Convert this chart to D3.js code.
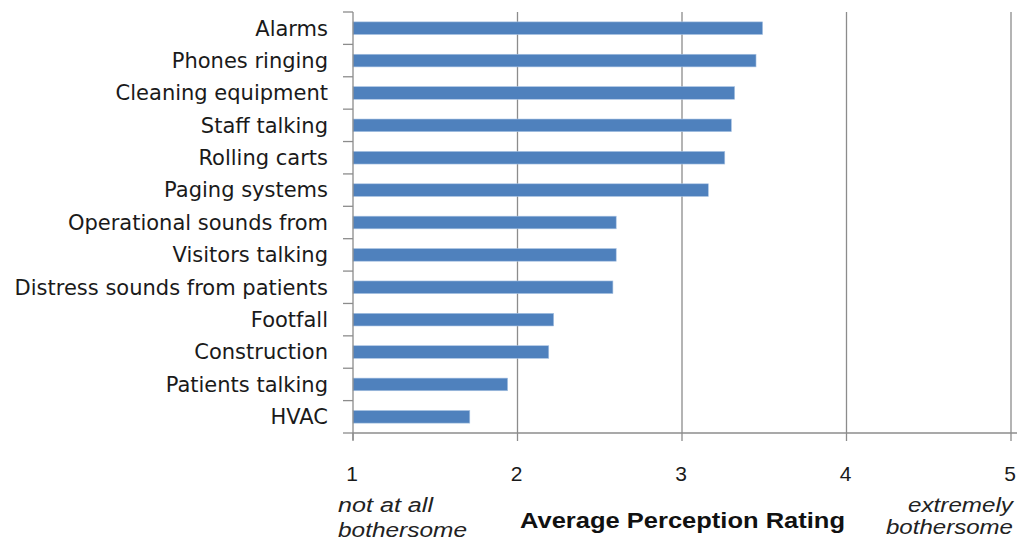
<!DOCTYPE html>
<html><head><meta charset="utf-8">
<script src="https://cdn.jsdelivr.net/npm/d3@7"></script>
<style>body{margin:0;background:#fff}svg{display:block}</style>
</head><body>
<svg id="c" width="1019" height="542"></svg>
<script>
const categories = ["Alarms","Phones ringing","Cleaning equipment","Staff talking","Rolling carts","Paging systems","Operational sounds from","Visitors talking","Distress sounds from patients","Footfall","Construction","Patients talking","HVAC"];
const values = [3.49,3.45,3.32,3.30,3.26,3.16,2.60,2.60,2.58,2.22,2.19,1.94,1.71];
const xTicks = [1,2,3,4,5];
const xTitle = "Average Perception Rating";
const lowLabel = ["not at all","bothersome"];
const highLabel = ["extremely","bothersome"];

const svg = d3.select("#c");
const L = 353, R = 1011, T = 12, B = 433;
const x = d3.scaleLinear().domain([1,5]).range([L,R]);
const y = d3.scaleBand().domain(categories).range([T,B]).paddingInner(0.61).paddingOuter(0.305);
const grid = "#8c8c8c";
const lblFont = "Liberation Sans";

// gridlines
svg.append("g").selectAll("line").data(xTicks.slice(1)).join("line")
  .attr("x1",d=>x(d)).attr("x2",d=>x(d)).attr("y1",T).attr("y2",B)
  .attr("stroke",grid).attr("stroke-width",1.3);

// bars
svg.append("g").selectAll("rect").data(categories).join("rect")
  .attr("x",x(1)).attr("y",d=>y(d))
  .attr("width",(d,i)=>x(values[i])-x(1)).attr("height",y.bandwidth())
  .attr("fill","#4f81bd").attr("stroke","#a9c3e3").attr("stroke-width",0.6);

// y axis
const yLine = svg.append("g");
yLine.append("line").attr("x1",L).attr("x2",L).attr("y1",T).attr("y2",B+7).attr("stroke",grid).attr("stroke-width",1.3);
const bounds = d3.range(categories.length+1).map(i=>T+i*(B-T)/categories.length);
yLine.selectAll("line.t").data(bounds).join("line").attr("class","t")
  .attr("x1",L-10).attr("x2",L).attr("y1",d=>d).attr("y2",d=>d).attr("stroke",grid).attr("stroke-width",1.3);
svg.append("g").selectAll("text").data(categories).join("text")
  .attr("x",328).attr("y",d=>y(d)+y.bandwidth()/2).attr("dy","0.35em")
  .attr("text-anchor","end").attr("font-family","DejaVu Sans").attr("font-size",21).attr("fill","#1a1a1a")
  .text(d=>d);

// x axis
const xa = svg.append("g");
xa.append("line").attr("x1",L).attr("x2",R+6).attr("y1",B).attr("y2",B).attr("stroke",grid).attr("stroke-width",1.3);
xa.selectAll("line.t").data(xTicks).join("line").attr("class","t")
  .attr("x1",d=>x(d)).attr("x2",d=>x(d)).attr("y1",B).attr("y2",B+8).attr("stroke",grid).attr("stroke-width",1.3);
xa.selectAll("text").data(xTicks).join("text")
  .attr("x",d=>x(d)-1).attr("y",481).attr("text-anchor","middle")
  .attr("font-family",lblFont).attr("font-size",21).attr("fill","#1a1a1a")
  .text(d=>d);

svg.append("text").attr("x",520).attr("y",528)
  .attr("font-family",lblFont).attr("font-weight","bold").attr("font-size",22).attr("fill","#111")
  .attr("textLength",325).attr("lengthAdjust","spacingAndGlyphs")
  .text(xTitle);
const lowW = [95,129], highW = [105,127];
svg.append("g").selectAll("text").data(lowLabel).join("text")
  .attr("x",338).attr("y",(d,i)=>512+i*25).attr("font-family",lblFont)
  .attr("textLength",(d,i)=>lowW[i]).attr("lengthAdjust","spacingAndGlyphs")
  .attr("font-style","italic").attr("font-size",20).attr("fill","#222").text(d=>d);
svg.append("g").selectAll("text").data(highLabel).join("text")
  .attr("x",(d,i)=>1013-highW[i]).attr("y",(d,i)=>512+i*22).attr("font-family",lblFont)
  .attr("textLength",(d,i)=>highW[i]).attr("lengthAdjust","spacingAndGlyphs")
  .attr("font-style","italic").attr("font-size",20).attr("fill","#222").text(d=>d);
</script>
</body></html>
